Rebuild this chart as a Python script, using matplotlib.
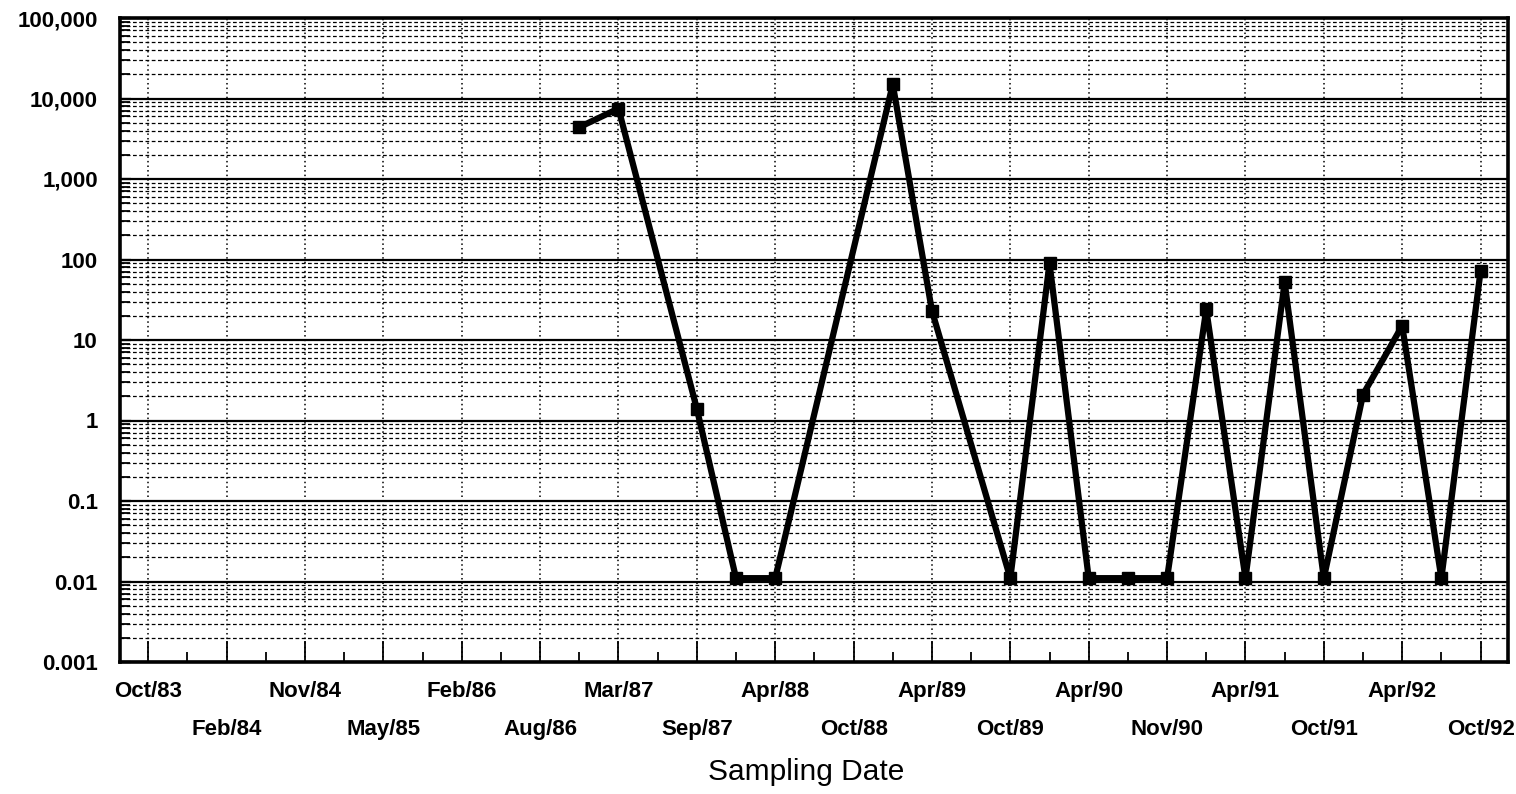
import numpy as np
import matplotlib
matplotlib.use("Agg")
import matplotlib.pyplot as plt
from matplotlib.ticker import FixedLocator, LogLocator, NullFormatter

plt.rcParams['font.family'] = ['Liberation Sans', 'DejaVu Sans']

# Sampling dates labelled on the axis (every second sampling slot)
date_labels = ["Oct/83", "Feb/84", "Nov/84", "May/85", "Feb/86", "Aug/86",
               "Mar/87", "Sep/87", "Apr/88", "Oct/88", "Apr/89", "Oct/89",
               "Apr/90", "Nov/90", "Apr/91", "Oct/91", "Apr/92", "Oct/92"]
n_slots = 35  # sampling slots 0..34

# Measured concentrations by sampling slot
sample_slots = [11, 12, 14, 15, 16, 19, 20, 22, 23, 24, 25, 26, 27, 28, 29, 30,
                31, 32, 33, 34]
sample_values = [4400, 7500, 1.4, 0.011, 0.011, 15000, 23, 0.011, 90, 0.011,
                 0.011, 0.011, 24, 0.011, 52, 0.011, 2.1, 15, 0.011, 72]

y_ticks = [0.001, 0.01, 0.1, 1, 10, 100, 1000, 10000, 100000]
y_tick_labels = ["0.001", "0.01", "0.1", "1", "10", "100", "1,000", "10,000",
                 "100,000"]

LABEL_SIZE = 16

fig = plt.figure(figsize=(15.16, 7.94), dpi=100)
ax = fig.add_axes([120 / 1516, 1 - 662 / 794, 1388 / 1516, 644 / 794])

ax.set_yscale('log')
ax.set_ylim(0.001, 100000)
ax.set_xlim(-0.72, 34.7)

# grid: solid decades, dashed sub-decades, dotted verticals
ax.yaxis.set_major_locator(FixedLocator(y_ticks))
ax.set_yticklabels(y_tick_labels)
ax.yaxis.set_minor_locator(LogLocator(base=10, subs=np.arange(2, 10), numticks=100))
ax.yaxis.set_minor_formatter(NullFormatter())
ax.grid(True, which='major', axis='y', color='black', linewidth=1.6, linestyle='-')
ax.grid(True, which='minor', axis='y', color='black', linewidth=0.9,
        linestyle=(0, (3, 2)))

major_x = list(range(0, n_slots, 2))
ax.set_xticks(major_x)
ax.set_xticklabels([lab if i % 2 == 0 else "" for i, lab in enumerate(date_labels)])
ax.xaxis.set_minor_locator(FixedLocator(list(range(1, n_slots, 2))))
ax.grid(True, which='major', axis='x', color='black', linewidth=1.1,
        linestyle=(0, (1, 2)))
ax.set_axisbelow(True)

ax.tick_params(axis='x', which='major', direction='in', length=15, width=1.3,
               pad=14, labelsize=LABEL_SIZE)
ax.tick_params(axis='x', which='minor', direction='in', length=7, width=1.3)
ax.tick_params(axis='y', which='major', direction='in', length=8, width=1.6,
               pad=16, labelsize=LABEL_SIZE)
ax.tick_params(axis='y', which='minor', direction='in', length=7, width=1.3)
for lab in ax.get_xticklabels() + ax.get_yticklabels():
    lab.set_fontweight('bold')

# second row of date labels
sec = ax.secondary_xaxis('bottom')
sec.set_xticks(major_x[1::2])
sec.set_xticklabels(date_labels[1::2])
sec.tick_params(axis='x', length=0, pad=41, labelsize=LABEL_SIZE)
sec.spines['bottom'].set_visible(False)
for lab in sec.get_xticklabels():
    lab.set_fontweight('bold')

for sp in ax.spines.values():
    sp.set_linewidth(2.6)
    sp.set_color('black')

ax.plot(sample_slots, sample_values, color='black', linewidth=4.5,
        marker='s', markersize=8, zorder=5)

fig.text(806 / 1516, 1 - 772 / 794, "Sampling Date", ha='center', va='center',
         fontsize=21.5)

fig.savefig("out.png", dpi=100, facecolor='white')
